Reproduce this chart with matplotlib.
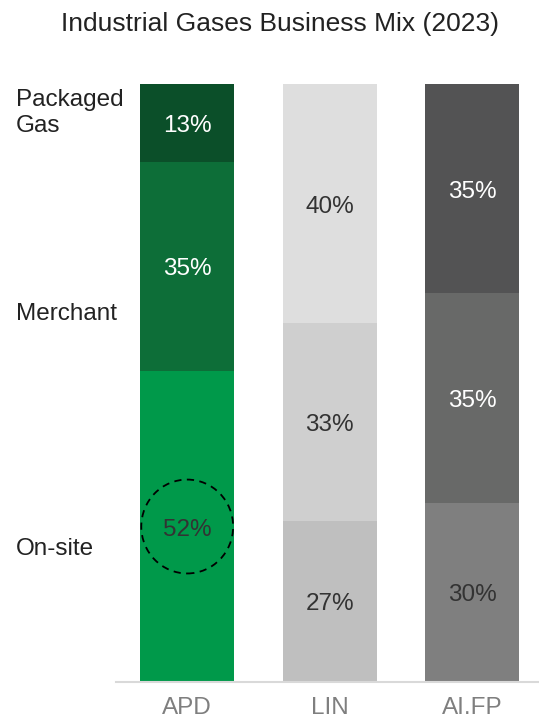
import matplotlib.pyplot as plt
from matplotlib.patches import Ellipse

plt.rcParams['font.family'] = ['Liberation Sans', 'DejaVu Sans']

# Datos
empresas = ["APD", "LIN", "AI.FP"]
segmentos = ["On-site", "Merchant", "Packaged\nGas"]
on_site = [52, 27, 30]
merchant = [35, 33, 35]
packaged = [13, 40, 35]

colores = [
    ["#00994a", "#0d6e38", "#0b4f29"],   # APD
    ["#bfbfbf", "#cfcfcf", "#dedede"],   # LIN
    ["#7f7f7f", "#686968", "#535354"],   # AI.FP
]
colores_texto = [
    ["#333333", "white", "white"],
    ["#333333", "#333333", "#333333"],
    ["#333333", "white", "white"],
]

fig = plt.figure(figsize=(5.39, 7.18), dpi=100)
ax = fig.add_axes([116 / 539, 1 - 682 / 718, 1 - 116 / 539, 598 / 718])

x = range(len(empresas))
ancho = 0.66
for i in x:
    valores = [on_site[i], merchant[i], packaged[i]]
    base = 0
    for j, v in enumerate(valores):
        ax.bar(i, v, ancho, bottom=base, color=colores[i][j], linewidth=0)
        ax.text(i, base + v / 2 - 0.5, f"{v}%", ha="center", va="center",
                fontsize=17.5, color=colores_texto[i][j])
        base += v

# Círculo punteado sobre el 52%
ax.add_patch(Ellipse((0, on_site[0] / 2), 0.645, 15.7, fill=False,
                     linestyle=(0, (4, 3)), edgecolor="black", linewidth=1.3))

ax.set_xlim(-0.5, 2.47)
ax.set_ylim(0, 100)
ax.set_xticks(list(x))
ax.set_xticklabels(empresas, fontsize=17.5, color="#7f7f7f")
ax.tick_params(axis="x", length=0, pad=11)
ax.set_yticks([])
for lado in ["top", "right", "left"]:
    ax.spines[lado].set_visible(False)
ax.spines["bottom"].set_color("#d9d9d9")
ax.spines["bottom"].set_linewidth(1.5)

# Etiquetas de segmentos a la izquierda
pos_y = [549, 314, 113]
for s, py in zip(segmentos, pos_y):
    fig.text(16 / 539, 1 - py / 718, s, ha="left", va="center",
             fontsize=17.5, color="#222222", linespacing=1.2)

fig.text(280 / 539, 1 - 24 / 718, "Industrial Gases Business Mix (2023)",
         ha="center", va="center", fontsize=19, color="#222222")

plt.savefig("out.png", dpi=100)
